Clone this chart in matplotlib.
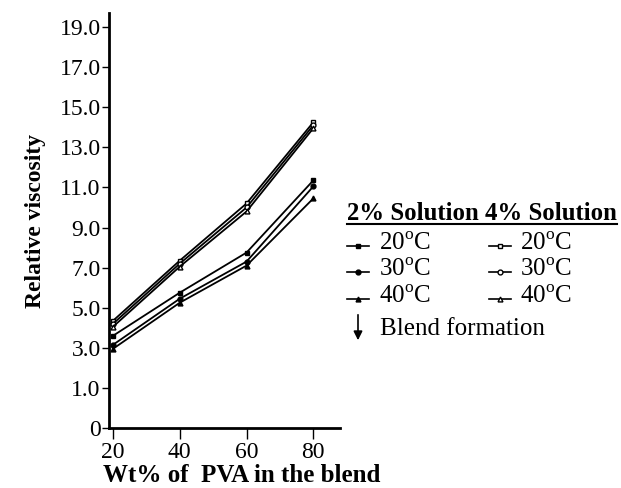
import matplotlib
matplotlib.use("Agg")
import matplotlib.pyplot as plt
from matplotlib.lines import Line2D
from matplotlib.patches import FancyArrowPatch

plt.rcParams['font.family'] = ['Liberation Serif', 'DejaVu Serif']
plt.rcParams['mathtext.fontset'] = 'custom'
plt.rcParams['mathtext.rm'] = 'Liberation Serif'

wt_pva = [20, 40, 60, 80]
# 2% solution (filled markers)
s2_20 = [3.6, 5.75, 7.75, 11.35]
s2_30 = [3.15, 5.45, 7.3, 11.05]
s2_40 = [2.95, 5.25, 7.1, 10.45]
# 4% solution (open markers)
s4_20 = [4.35, 7.35, 10.2, 14.25]
s4_30 = [4.2, 7.2, 10.0, 14.1]
s4_40 = [4.05, 7.05, 9.8, 13.95]

temps = ['20$^{\\mathrm{o}}$C', '30$^{\\mathrm{o}}$C', '40$^{\\mathrm{o}}$C']
ytick_vals = [-1, 1, 3, 5, 7, 9, 11, 13, 15, 17, 19]
ytick_labels = ['0', '1.0', '3.0', '5.0', '7.0', '9.0', '11.0', '13.0', '15.0', '17.0', '19.0']
xticks = [20, 40, 60, 80]

fig = plt.figure(figsize=(6.21, 4.88), dpi=100)
ax = fig.add_axes([109/621, 60/488, (340-109)/621, (428-13)/488])

markers = ['s', 'o', '^']
for ys, m in zip([s2_20, s2_30, s2_40], markers):
    ax.plot(wt_pva, ys, color='black', lw=1.3, marker=m, ms=3.5, mfc='black', mec='black')
for ys, m in zip([s4_20, s4_30, s4_40], markers):
    ax.plot(wt_pva, ys, color='black', lw=1.3, marker=m, ms=3.5, mfc='white', mec='black')

ax.set_xlim(18.8, 88)
ax.set_ylim(-1, 19.7)
ax.set_xticks(xticks)
ax.set_xticklabels([str(v) for v in xticks], fontsize=17)
ax.set_yticks(ytick_vals)
ax.set_yticklabels(ytick_labels, fontsize=17)
ax.spines['top'].set_visible(False)
ax.spines['right'].set_visible(False)
ax.spines['left'].set_linewidth(2)
ax.spines['bottom'].set_linewidth(2)
ax.tick_params(axis='x', direction='out', length=8, width=1, pad=2)
ax.tick_params(axis='y', direction='out', length=5, width=1, pad=1)
ax.set_xlabel('Wt% of  PVA in the blend', fontsize=18, fontweight='bold')
ax.xaxis.label.set_va('center')
ax.xaxis.set_label_coords(0.574, -0.114)
ax.set_ylabel('Relative viscosity', fontsize=17, fontweight='bold', labelpad=10)

def fx(px):
    return px / 621
def fy(py):
    return 1 - py / 488

fig.text(fx(347), fy(213), '2% Solution 4% Solution', fontsize=17.8, fontweight='bold',
         ha='left', va='center')
fig.add_artist(Line2D([fx(347), fx(617)], [fy(224), fy(224)], color='black', lw=1.5))

rows_y = [246, 272, 299]
for i, (lab, m) in enumerate(zip(temps, markers)):
    y = rows_y[i]
    fig.add_artist(Line2D([fx(347), fx(369)], [fy(y), fy(y)], color='black', lw=1.2))
    fig.add_artist(Line2D([fx(358)], [fy(y)], color='black', marker=m, ms=3.5,
                          mfc='black', mec='black', lw=0))
    fig.text(fx(379), fy(y - 2), lab, fontsize=18, ha='left', va='center')
    fig.add_artist(Line2D([fx(489), fx(511)], [fy(y), fy(y)], color='black', lw=1.2))
    fig.add_artist(Line2D([fx(500)], [fy(y)], color='black', marker=m, ms=3.5,
                          mfc='white', mec='black', lw=0))
    fig.text(fx(520), fy(y - 2), lab, fontsize=18, ha='left', va='center')

fig.add_artist(FancyArrowPatch((fx(358), fy(312)), (fx(358), fy(343)),
               transform=fig.transFigure, arrowstyle='-|>', mutation_scale=13,
               color='black', lw=1.2))
fig.text(fx(380), fy(329), 'Blend formation', fontsize=18, ha='left', va='center')

fig.savefig('out.png', dpi=100)
